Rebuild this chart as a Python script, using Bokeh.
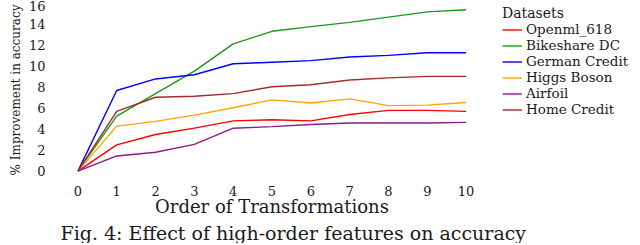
from bokeh.plotting import figure
from bokeh.models import Range1d, FixedTicker, Legend, LegendItem, Title
from bokeh.embed import file_html
from bokeh.resources import INLINE

orders = [0, 1, 2, 3, 4, 5, 6, 7, 8, 9, 10]
y_ticks = [0, 2, 4, 6, 8, 10, 12, 14, 16]

openml_618 = [0, 2.5, 3.5, 4.1, 4.8, 4.9, 4.8, 5.4, 5.8, 5.8, 5.7]
bikeshare_dc = [0, 5.25, 7.4, 9.55, 12.15, 13.35, 13.8, 14.2, 14.7, 15.2, 15.4]
german_credit = [0, 7.7, 8.8, 9.2, 10.25, 10.4, 10.55, 10.9, 11.05, 11.3, 11.3]
higgs_boson = [0, 4.3, 4.75, 5.35, 6.05, 6.8, 6.5, 6.9, 6.25, 6.3, 6.55]
airfoil = [0, 1.45, 1.8, 2.55, 4.1, 4.25, 4.45, 4.6, 4.6, 4.6, 4.65]
home_credit = [0, 5.7, 7.05, 7.15, 7.4, 8.05, 8.25, 8.7, 8.9, 9.05, 9.05]

series_names = ["Openml_618", "Bikeshare DC", "German Credit", "Higgs Boson", "Airfoil", "Home Credit"]
series_values = [openml_618, bikeshare_dc, german_credit, higgs_boson, airfoil, home_credit]
series_colors = ["#ff0000", "#1a9a1a", "#0000ff", "#ffa500", "#8b1a8b", "#a52a2a"]

FONT = "DejaVu Serif"
TXT = "#1a1a1a"

p = figure(frame_width=427, frame_height=179, output_backend="svg", toolbar_location=None,
           x_range=Range1d(-0.5, 10.5), y_range=Range1d(-0.8, 16.29),
           min_border_left=58, min_border_right=147, min_border_top=0, min_border_bottom=56)
p.outline_line_color = None
p.grid.visible = False
p.background_fill_color = None
p.border_fill_color = "white"

items = []
for name, vals, col in zip(series_names, series_values, series_colors):
    r = p.line(orders, vals, line_color=col, line_width=1.4)
    items.append(LegendItem(label=name, renderers=[r]))

for ax in (p.xaxis[0], p.yaxis[0]):
    ax.axis_line_color = None
    ax.major_tick_line_color = None
    ax.minor_tick_line_color = None
    ax.major_tick_out = 0
    ax.major_tick_in = 0
    ax.major_label_text_font = FONT
    ax.major_label_text_color = TXT
    ax.major_label_text_font_size = "13px"
    ax.axis_label_text_font = FONT
    ax.axis_label_text_font_style = "normal"
    ax.axis_label_text_color = TXT

p.xaxis.axis_label_text_font_size = "18px"
p.yaxis.axis_label_text_font_size = "12px"
p.xaxis.ticker = FixedTicker(ticks=orders)
p.yaxis.ticker = FixedTicker(ticks=y_ticks)
p.xaxis.axis_label = "Order of Transformations"
p.yaxis.axis_label = "% Improvement in accuracy"
p.xaxis.major_label_standoff = 6
p.yaxis.major_label_standoff = 13
p.xaxis.axis_label_standoff = -3
p.yaxis.axis_label_standoff = 3

legend = Legend(items=items, title="Datasets", location=(17, 62))
legend.title_text_font = FONT
legend.title_text_font_style = "normal"
legend.title_text_font_size = "14px"
legend.title_text_color = TXT
legend.label_text_font = FONT
legend.label_text_font_size = "13.5px"
legend.label_text_color = TXT
legend.border_line_color = None
legend.background_fill_alpha = 0
legend.padding = 0
legend.margin = 0
legend.spacing = 0
legend.glyph_width = 20
legend.glyph_height = 15
legend.label_height = 15
legend.label_standoff = 4
legend.title_standoff = 0
p.add_layout(legend, "right")

cap = Title(text="Fig. 4: Effect of high-order features on accuracy", align="left", offset=2,
            text_font=FONT, text_font_size="19px", text_font_style="normal", text_color=TXT,
            standoff=0)
p.add_layout(cap, "below")

open("out.html", "w").write(file_html(p, INLINE))
